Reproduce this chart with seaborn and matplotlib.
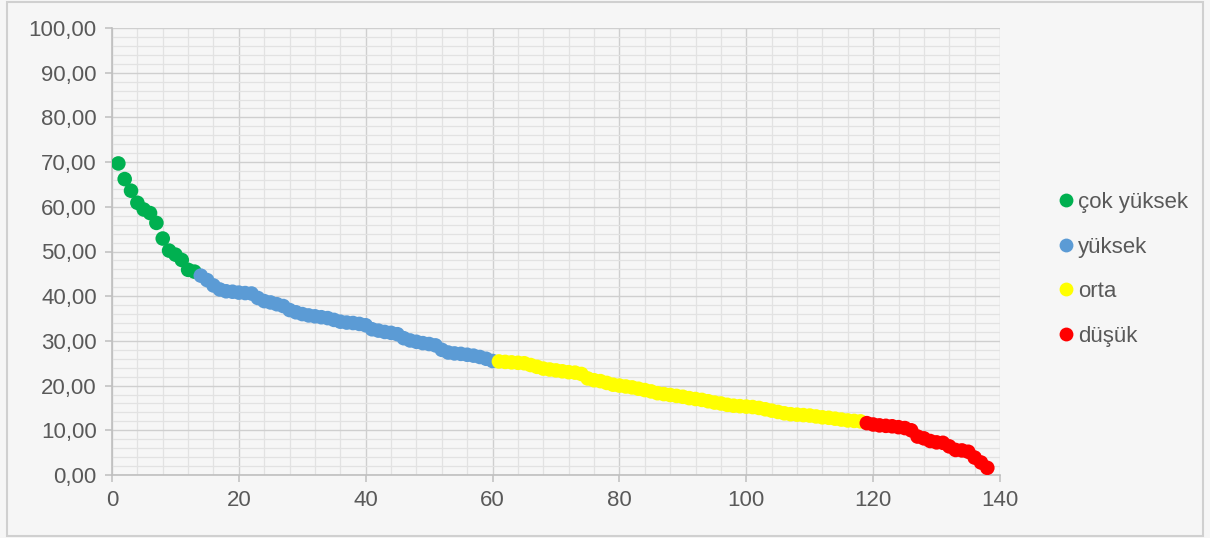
import numpy as np
import pandas as pd
import matplotlib
matplotlib.use("Agg")
import matplotlib.pyplot as plt
from matplotlib.ticker import MultipleLocator, FuncFormatter
from matplotlib.patches import Rectangle
import seaborn as sns

# ---- data ----
categories = ["çok yüksek", "yüksek", "orta", "düşük"]
colors = ["#00b050", "#5b9bd5", "#ffff00", "#ff0000"]

cok_yuksek = [69.7, 66.2, 63.6, 60.9, 59.4, 58.6, 56.4, 52.9, 50.2, 49.3, 48.1, 45.9, 45.5]
yuksek = [44.6, 43.6, 42.4, 41.5, 41.1, 41.0, 40.8, 40.7, 40.6, 39.6, 38.9, 38.6, 38.2,
          37.8, 36.9, 36.4, 36.0, 35.7, 35.5, 35.3, 35.1, 34.7, 34.3, 34.1, 34.0, 33.8,
          33.5, 32.6, 32.3, 32.0, 31.8, 31.5, 30.6, 30.1, 29.8, 29.5, 29.3, 29.0, 28.0,
          27.4, 27.2, 27.1, 26.9, 26.7, 26.4, 26.0, 25.5]
orta = [25.4, 25.3, 25.2, 25.1, 25.0, 24.6, 24.2, 23.8, 23.6, 23.4, 23.2, 23.0, 22.9,
        22.6, 21.6, 21.2, 21.0, 20.6, 20.2, 20.0, 19.8, 19.6, 19.3, 19.0, 18.7, 18.3,
        18.1, 17.9, 17.7, 17.5, 17.2, 17.0, 16.8, 16.5, 16.2, 16.0, 15.7, 15.5, 15.4,
        15.3, 15.2, 15.0, 14.7, 14.4, 14.1, 13.8, 13.6, 13.5, 13.4, 13.3, 13.1, 12.9,
        12.8, 12.6, 12.4, 12.2, 12.1, 12.0]
dusuk = [11.6, 11.3, 11.1, 11.0, 10.9, 10.7, 10.5, 10.0, 8.6, 8.2, 7.6, 7.3, 7.2, 6.4,
         5.6, 5.5, 5.2, 3.9, 2.8, 1.6]

x_ticks = [0, 20, 40, 60, 80, 100, 120, 140]
y_ticks = [0, 10, 20, 30, 40, 50, 60, 70, 80, 90, 100]

series = [cok_yuksek, yuksek, orta, dusuk]
vals, cats = [], []
for c, s in zip(categories, series):
    vals += s
    cats += [c] * len(s)
df = pd.DataFrame({"x": np.arange(1, len(vals) + 1), "y": vals, "kategori": cats})

# ---- style ----
sns.set_theme(style="white")
plt.rcParams["font.family"] = ["Liberation Sans", "DejaVu Sans"]
text_color = "#595959"
bg = "#f6f6f6"
fs = 16

fig = plt.figure(figsize=(12.1, 5.38), dpi=100, facecolor=bg)
ax = fig.add_axes([112 / 1210, 1 - 475 / 538, 888 / 1210, 447 / 538])
ax.set_facecolor(bg)

sns.scatterplot(data=df, x="x", y="y", hue="kategori", hue_order=categories,
                palette=colors, s=110, linewidth=0, edgecolor="none", ax=ax,
                zorder=3, legend=True)

ax.set_xlim(0, 140)
ax.set_ylim(0, 100)
ax.set_xticks(x_ticks)
ax.set_yticks(y_ticks)
ax.xaxis.set_minor_locator(MultipleLocator(4))
ax.yaxis.set_minor_locator(MultipleLocator(2))
ax.yaxis.set_major_formatter(FuncFormatter(lambda v, p: f"{v:.2f}".replace(".", ",")))
ax.grid(which="major", color="#cfcfcf", linewidth=1.0, zorder=0)
ax.grid(which="minor", color="#e2e2e2", linewidth=0.9, zorder=0)
ax.set_axisbelow(True)
ax.set_xlabel("")
ax.set_ylabel("")

for side in ["top", "right"]:
    ax.spines[side].set_visible(False)
for side in ["left", "bottom"]:
    ax.spines[side].set_color("#bfbfbf")
    ax.spines[side].set_linewidth(1.2)

ax.tick_params(axis="both", which="major", direction="out", length=5, width=1.1,
               color="#bfbfbf", labelsize=fs, labelcolor=text_color, pad=6,
               bottom=True, left=True)
ax.tick_params(axis="both", which="minor", length=0)

handles, labels = ax.get_legend_handles_labels()
leg = ax.legend(handles, labels, loc="center left", bbox_to_anchor=(1.039, 0.46),
                frameon=False, fontsize=fs, labelspacing=1.06, handletextpad=-0.46,
                markerscale=0.95, borderaxespad=0)
for t in leg.get_texts():
    t.set_color(text_color)

fig.patches.append(Rectangle((7 / 1210, 2 / 538), 1196 / 1210, 534 / 538,
                             transform=fig.transFigure, fill=False,
                             edgecolor="#d0d0d0", linewidth=1.5))

fig.savefig("out.png", dpi=100, facecolor=bg)
